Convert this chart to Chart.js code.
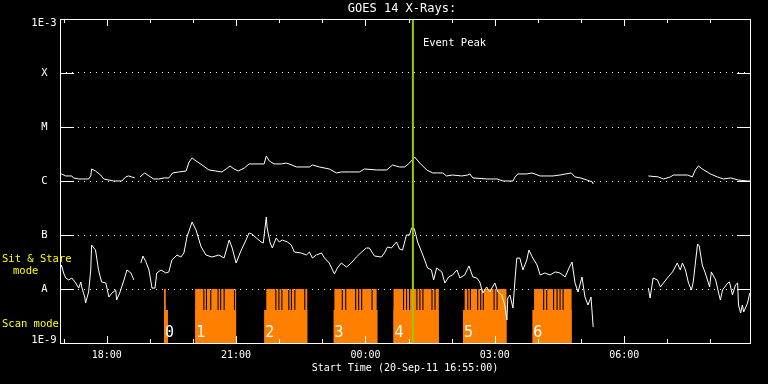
<!DOCTYPE html>
<html lang="en">
<head>
  <meta charset="UTF-8" />
  <title>GOES 14 X-Rays</title>
  <script src="https://cdn.jsdelivr.net/npm/chart.js"></script>
  <style>
    html, body { margin: 0; background: #000; }
    #wrap { width: 768px; height: 384px; }
  </style>
</head>
<body>
<div id="wrap"><canvas id="goes" width="768" height="384"></canvas></div>
<script>
  // time axis: hours since 20-Sep-11 00:00 (start 16:55, 16 h span)
  const startHour = 16 + 55 / 60;
  const endHour = startHour + 16;
  const hourTicks = [18, 21, 24, 27, 30];
  const hourLabels = ['18:00', '21:00', '00:00', '03:00', '06:00'];

  // flux axis (W/m^2)
  const fluxTicks = [1e-9, 1e-8, 1e-7, 1e-6, 1e-5, 1e-4, 1e-3];
  const fluxLabels = ['1E-9', 'A', 'B', 'C', 'M', 'X', '1E-3'];

  // 1-8 A channel
  const longTime = [16.92, 16.95, 17.05, 17.19, 17.23, 17.35, 17.58, 17.63, 17.65, 17.74,
    17.86, 17.93, 18.05, 18.16, 18.35, 18.44, 18.51, 18.58, 18.65, 18.71,
    18.77, 18.88, 18.98, 19.09, 19.21, 19.33, 19.44, 19.53, 19.67, 19.84,
    19.91, 19.98, 20.07, 20.21, 20.37, 20.53, 20.67, 20.77, 20.86, 20.95,
    21.05, 21.19, 21.30, 21.65, 21.70, 21.77, 21.88, 22.05, 22.16, 22.23,
    22.40, 22.70, 22.77, 22.93, 23.16, 23.33, 23.44, 23.63, 23.86, 23.98,
    24.26, 24.49, 24.63, 24.70, 24.79, 24.91, 25.02, 25.14, 25.26, 25.42,
    25.56, 25.67, 25.79, 25.88, 26.02, 26.23, 26.37, 26.42, 26.49, 26.81,
    27.05, 27.19, 27.42, 27.47, 27.53, 27.74, 27.86, 28.05, 28.35, 28.51,
    28.77, 28.86, 28.98, 29.14, 29.26, 29.28, 29.90, 30.56, 30.79, 30.91,
    31.07, 31.14, 31.47, 31.58, 31.65, 31.72, 31.81, 32.00, 32.16, 32.30,
    32.47, 32.65, 32.86, 32.93];
  const longFlux = [1.29e-6, 1.35e-6, 1.24e-6, 1.24e-6, 1.14e-6, 1.09e-6, 1.09e-6, 1.24e-6, 1.67e-6, 1.53e-6,
    1.29e-6, 1.09e-6, 1.04e-6, 1.0e-6, 1.0e-6, 1.19e-6, 1.24e-6, 1.19e-6, 1.14e-6, null,
    1.19e-6, 1.41e-6, 1.24e-6, 1.09e-6, 1.09e-6, 1.14e-6, 1.14e-6, 1.41e-6, 1.47e-6, 1.53e-6,
    2.25e-6, 2.67e-6, 2.35e-6, 1.98e-6, 1.60e-6, 1.53e-6, 1.47e-6, 1.67e-6, 1.90e-6, 1.67e-6,
    1.53e-6, 1.74e-6, 2.07e-6, 2.07e-6, 2.90e-6, 2.35e-6, 2.07e-6, 2.07e-6, 2.15e-6, 2.07e-6,
    1.82e-6, 1.82e-6, 1.98e-6, 1.82e-6, 1.67e-6, 1.41e-6, 1.47e-6, 1.47e-6, 1.47e-6, 1.67e-6,
    1.60e-6, 1.60e-6, 1.98e-6, 1.90e-6, 1.82e-6, 1.82e-6, 2.15e-6, 2.78e-6, 2.15e-6, 1.60e-6,
    1.41e-6, 1.41e-6, 1.41e-6, 1.24e-6, 1.29e-6, 1.24e-6, 1.29e-6, 1.35e-6, 1.14e-6, 1.09e-6,
    1.09e-6, 1.0e-6, 1.0e-6, 1.19e-6, 1.35e-6, 1.35e-6, 1.41e-6, 1.24e-6, 1.24e-6, 1.29e-6,
    1.41e-6, 1.19e-6, 1.14e-6, 1.04e-6, 9.6e-7, 8.8e-7, null, 1.24e-6, 1.19e-6, 1.09e-6,
    1.19e-6, 1.29e-6, 1.29e-6, 1.19e-6, 1.60e-6, 1.90e-6, 1.67e-6, 1.35e-6, 1.19e-6, 1.09e-6,
    1.14e-6, 1.04e-6, 1.0e-6, 1.0e-6];

  // 0.5-4 A channel
  const shortTime = [16.92, 16.95, 17.00, 17.05, 17.12, 17.19, 17.28, 17.35, 17.40, 17.42,
    17.49, 17.51, 17.58, 17.63, 17.65, 17.74, 17.81, 17.88, 17.98, 18.05,
    18.12, 18.21, 18.23, 18.30, 18.40, 18.47, 18.56, 18.63, 18.71,
    18.79, 18.84, 18.91, 18.98, 19.05, 19.12, 19.16, 19.26, 19.37, 19.44,
    19.51, 19.63, 19.72, 19.79, 19.86, 19.98, 20.07, 20.19, 20.30, 20.44,
    20.60, 20.72, 20.84, 20.91, 21.00, 21.12, 21.23, 21.30, 21.37, 21.47,
    21.58, 21.63, 21.70, 21.72, 21.79, 21.84, 21.93, 22.00, 22.07, 22.19,
    22.28, 22.35, 22.51, 22.63, 22.70, 22.77, 22.86, 22.98, 23.05, 23.16,
    23.28, 23.35, 23.44, 23.56, 23.67, 23.79, 23.91, 24.02, 24.09, 24.21,
    24.37, 24.44, 24.51, 24.60, 24.72, 24.79, 24.86, 24.95, 25.02, 25.07,
    25.12, 25.14, 25.21, 25.33, 25.44, 25.53, 25.58, 25.65, 25.77, 25.84,
    25.93, 26.02, 26.12, 26.19, 26.30, 26.40, 26.49, 26.58, 26.65, 26.72,
    26.81, 26.88, 27.00, 27.07, 27.16, 27.23, 27.28, 27.30, 27.35, 27.42,
    27.47, 27.51, 27.58, 27.65, 27.74, 27.79, 27.88, 27.98, 28.05, 28.16,
    28.28, 28.40, 28.51, 28.63, 28.72, 28.79, 28.86, 28.93, 29.02, 29.09,
    29.16, 29.23, 29.28, 29.90,
    30.56, 30.60, 30.67, 30.77, 30.84, 30.91, 31.00, 31.12, 31.23, 31.30,
    31.35, 31.42, 31.49, 31.56, 31.60, 31.70, 31.74, 31.81, 31.88, 31.98,
    32.02, 32.12, 32.19, 32.23, 32.28, 32.40, 32.44, 32.51, 32.58, 32.63,
    32.65, 32.70, 32.74, 32.77, 32.86, 32.91];
  const shortFlux = [2.25e-8, 2.78e-8, 1.98e-8, 1.60e-8, 1.47e-8, 1.60e-8, 1.29e-8, 1.04e-8, 1.35e-8, 1.09e-8,
    7.1e-9, 5.5e-9, 8.8e-9, 2.25e-8, 6.52e-8, 5.27e-8, 2.25e-8, 1.35e-8, 1.29e-8, 7.1e-9,
    8.4e-9, 9.6e-9, 6.25e-9, 8.4e-9, 1.47e-8, 2.25e-8, 1.98e-8, 1.47e-8, null,
    3.03e-8, 4.08e-8, 3.16e-8, 2.25e-8, 1.04e-8, 1.04e-8, 1.98e-8, 2.25e-8, 1.98e-8, 2.07e-8,
    3.44e-8, 4.26e-8, 3.91e-8, 4.64e-8, 9.18e-8, 1.74e-7, 1.24e-7, 5.99e-8, 4.26e-8, 3.91e-8,
    4.26e-8, 3.75e-8, 8.08e-8, 5.74e-8, 3.03e-8, 5.27e-8, 8.08e-8, 1.09e-7, 1.04e-7, 8.8e-8,
    7.42e-8, 7.11e-8, 2.15e-7, 1.35e-7, 7.11e-8, 5.74e-8, 8.8e-8, 7.42e-8, 8.08e-8, 7.42e-8,
    6.52e-8, 4.84e-8, 4.64e-8, 4.26e-8, 4.84e-8, 3.75e-8, 4.26e-8, 4.64e-8, 3.75e-8, 3.03e-8,
    1.90e-8, 2.45e-8, 3.03e-8, 2.55e-8, 3.03e-8, 3.91e-8, 4.84e-8, 5.74e-8, 5.74e-8, 4.08e-8,
    3.91e-8, 4.64e-8, 5.99e-8, 5.74e-8, 7.42e-8, 5.50e-8, 5.27e-8, 1.0e-7, 1.0e-7, 1.35e-7,
    1.35e-7, 1.24e-7, 7.42e-8, 4.26e-8, 2.45e-8, 2.25e-8, 1.47e-8, 2.45e-8, 2.07e-8, 1.29e-8,
    1.67e-8, 1.82e-8, 2.25e-8, 1.60e-8, 1.82e-8, 2.67e-8, 1.67e-8, 1.60e-8, 1.35e-8, 8.4e-9,
    1.09e-8, 8.8e-9, 1.29e-8, 8.8e-9, 7.74e-9, 5.05e-9, 2.67e-9, 6.81e-9, 7.74e-9, 4.44e-9,
    1.60e-8, 3.75e-8, 3.75e-8, 2.25e-8, 3.44e-8, 5.27e-8, 3.75e-8, 2.78e-8, 1.82e-8, 1.98e-8,
    1.82e-8, 2.07e-8, 1.98e-8, 1.67e-8, 2.45e-8, 3.16e-8, 1.29e-8, 8.8e-9, 1.67e-8, 7.1e-9,
    5.05e-9, 7.1e-9, 1.98e-9, null,
    1.04e-8, 6.81e-9, 1.60e-8, 1.47e-8, 1.09e-8, 1.29e-8, 1.60e-8, 2.07e-8, 3.03e-8, 2.25e-8,
    3.03e-8, 2.25e-8, 1.29e-8, 9.6e-9, 1.35e-8, 6.81e-8, 6.25e-8, 2.78e-8, 1.98e-8, 1.09e-8,
    2.07e-8, 1.47e-8, 8.4e-9, 6.25e-9, 9.6e-9, 1.29e-8, 1.35e-8, 7.74e-9, 1.19e-8, 1.29e-8,
    5.05e-9, 3.59e-9, 5.05e-9, 3.75e-9, 5.5e-9, 8.4e-9];

  // instrument mode timeline (hours)
  const scanNames = ['0', '1', '2', '3', '4', '5', '6'];
  const scanStart = [19.33, 20.05, 21.65, 23.26, 24.65, 26.26, 27.87];
  const scanEnd = [19.42, 21.00, 22.65, 24.28, 25.70, 27.27, 28.78];
  const stareStart = [19.33, 20.05, 21.70, 23.28, 24.65, 26.30, 27.91];
  const stareEnd = [19.37, 21.00, 22.65, 24.26, 25.70, 27.27, 28.78];
  const stareBreaks = [20.24, 20.30, 20.40, 20.57, 20.63, 20.71, 20.95,
    21.91, 21.98, 22.05, 22.21, 22.27, 22.35, 22.58,
    23.45, 23.53, 23.76, 23.83, 23.90, 24.14,
    24.87, 24.94, 25.01, 25.18, 25.25, 25.32, 25.53, 25.60,
    26.36, 26.42, 26.59, 26.66, 26.72, 26.97, 27.04,
    28.12, 28.19, 28.35, 28.43, 28.50, 28.57];
  const peakTime = 25.10;

  const FLOOR = 1e-9, SCAN_LEVEL = 4.1e-9, STARE_LEVEL = 1e-8, BREAK_W = 0.025;

  const pairs = (t, f) => t.map((v, i) => ({ x: v, y: f[i] }));

  const scanData = [{ x: startHour, y: FLOOR }];
  scanStart.forEach((s, i) => {
    scanData.push({ x: s, y: SCAN_LEVEL }, { x: scanEnd[i], y: FLOOR });
  });
  scanData.push({ x: endHour, y: FLOOR });

  const stareData = [{ x: startHour, y: FLOOR }];
  stareStart.forEach((s, i) => {
    stareData.push({ x: s, y: STARE_LEVEL });
    stareBreaks.filter(b => b > s && b < stareEnd[i]).forEach(b => {
      stareData.push({ x: b, y: SCAN_LEVEL }, { x: b + BREAK_W, y: STARE_LEVEL });
    });
    stareData.push({ x: stareEnd[i], y: FLOOR });
  });
  stareData.push({ x: endHour, y: FLOOR });

  const FONT = 'DejaVu Sans Mono';

  const decorations = {
    id: 'decorations',
    afterDraw(chart) {
      const { ctx, chartArea: a, scales: { x, y } } = chart;
      ctx.save();
      ctx.strokeStyle = '#fff';
      ctx.lineWidth = 1;
      ctx.strokeRect(a.left + 0.5, a.top + 0.5, a.right - a.left, a.bottom - a.top);
      ctx.beginPath();
      fluxTicks.slice(1, -1).forEach(v => {
        const py = Math.round(y.getPixelForValue(v)) + 0.5;
        ctx.moveTo(a.left, py); ctx.lineTo(a.left + 14, py);
        ctx.moveTo(a.right - 13, py); ctx.lineTo(a.right + 1, py);
      });
      for (let h = Math.ceil(x.min); h <= x.max; h++) {
        const px = Math.round(x.getPixelForValue(h)) + 0.5;
        const len = h % 3 === 0 ? 7 : 4;
        ctx.moveTo(px, a.bottom); ctx.lineTo(px, a.bottom - len);
        ctx.moveTo(px, a.top); ctx.lineTo(px, a.top + len);
      }
      ctx.stroke();

      ctx.fillStyle = '#fff';
      ctx.textBaseline = 'middle';
      ctx.textAlign = 'center';
      ctx.font = '10.5px ' + FONT;
      // edge labels of the flux axis sit just inside the plot box
      ctx.fillText(fluxLabels[fluxLabels.length - 1], 44, y.getPixelForValue(fluxTicks[fluxTicks.length - 1]) + 4);
      ctx.fillText(fluxLabels[0], 44, y.getPixelForValue(fluxTicks[0]) - 3);
      ctx.font = '12px ' + FONT;
      ctx.fillText('GOES 14 X-Rays:', (a.left + a.right) / 2 - 3, 9);
      ctx.font = '10px ' + FONT;
      ctx.fillText('Start Time (20-Sep-11 16:55:00)', (a.left + a.right) / 2, 368);

      ctx.textAlign = 'left';
      ctx.font = '10.5px ' + FONT;
      ctx.fillText('Event Peak', x.getPixelForValue(peakTime) + 10, 43);

      ctx.font = '15px ' + FONT;
      scanNames.forEach((n, i) => {
        ctx.fillText(n, x.getPixelForValue(scanStart[i]) + 1, 333);
      });

      ctx.fillStyle = '#ffff00';
      ctx.font = '10.5px ' + FONT;
      ctx.fillText('Sit & Stare', 2, 259);
      ctx.fillText('mode', 13, 271);
      ctx.fillText('Scan mode', 2, 324);
      ctx.restore();
    }
  };

  new Chart(document.getElementById('goes'), {
    type: 'line',
    data: {
      datasets: [
        { data: [{ x: peakTime, y: 1e-9 }, { x: peakTime, y: 1e-3 }], borderColor: '#99cc00', borderWidth: 2, order: 0 },
        { data: pairs(longTime, longFlux), borderColor: '#fff', borderWidth: 1, order: 1 },
        { data: pairs(shortTime, shortFlux), borderColor: '#fff', borderWidth: 1, order: 1 },
        { data: stareData, stepped: true, borderWidth: 0, borderColor: 'transparent', backgroundColor: '#ff8000', fill: 'start', order: 2 },
        { data: scanData, stepped: true, borderWidth: 0, borderColor: 'transparent', backgroundColor: '#ff8000', fill: 'start', order: 2 }
      ]
    },
    options: {
      responsive: false,
      animation: false,
      devicePixelRatio: 1,
      layout: { padding: { top: 19, right: 18, left: 0, bottom: 0 } },
      elements: { point: { radius: 0 }, line: { tension: 0 } },
      plugins: { legend: { display: false }, tooltip: { enabled: false } },
      scales: {
        x: {
          type: 'linear',
          min: startHour,
          max: endHour,
          afterFit: s => { s.height = 41; },
          afterBuildTicks: s => { s.ticks = hourTicks.map(v => ({ value: v })); },
          ticks: {
            autoSkip: false, maxRotation: 0, padding: 6, color: '#fff',
            font: { family: FONT, size: 10 },
            callback: v => hourLabels[hourTicks.indexOf(v)]
          },
          grid: { display: false, drawTicks: false },
          border: { display: false }
        },
        y: {
          type: 'logarithmic',
          min: 1e-9,
          max: 1e-3,
          afterFit: s => { s.width = 60; },
          afterBuildTicks: s => { s.ticks = fluxTicks.map(v => ({ value: v })); },
          ticks: {
            padding: 3, crossAlign: 'center', color: '#fff',
            font: { family: FONT, size: 10.5 },
            callback: (v, i) => (i === 0 || i === fluxLabels.length - 1) ? '    ' : fluxLabels[i]
          },
          grid: {
            drawTicks: false, lineWidth: 1,
            color: c => (c.index === 0 || c.index === fluxTicks.length - 1) ? 'transparent' : '#fff'
          },
          border: { display: false, dash: [1, 5] }
        }
      }
    },
    plugins: [decorations]
  });
</script>
</body>
</html>
